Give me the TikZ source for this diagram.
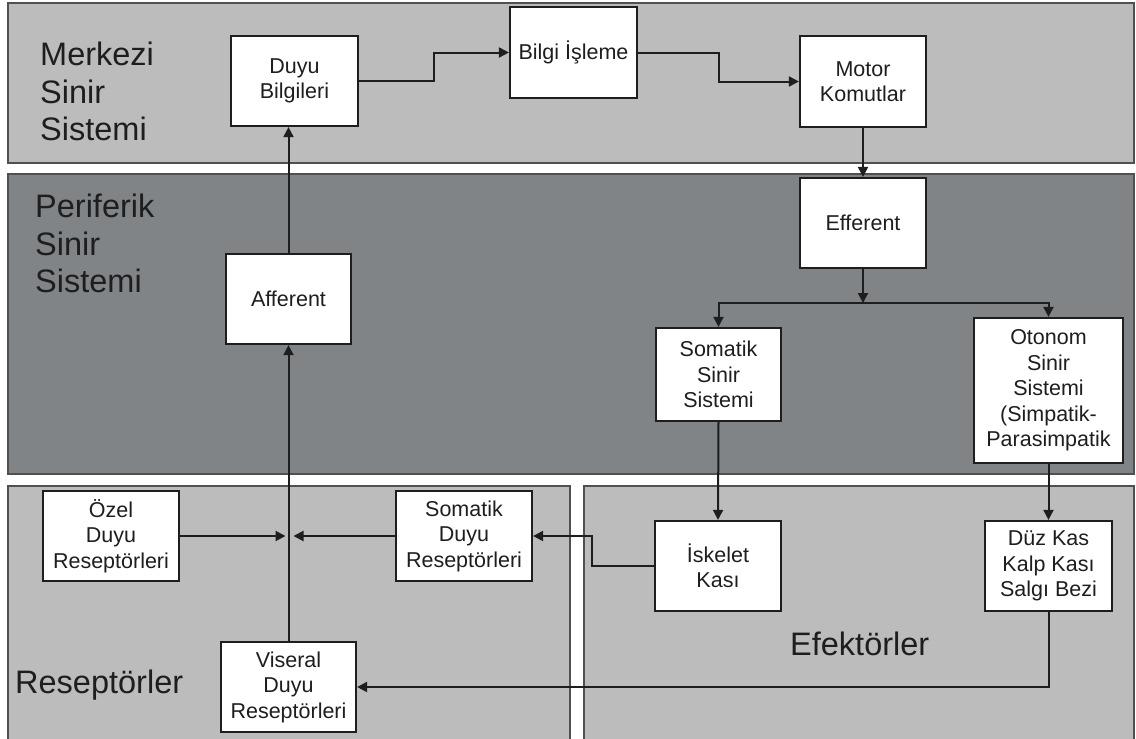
\documentclass[tikz,border=0pt]{standalone}
\usepackage{fontspec}
\setmainfont{Liberation Sans}
\usetikzlibrary{arrows.meta}
\definecolor{lightpanel}{RGB}{188,188,188}
\definecolor{darkpanel}{RGB}{128,132,135}
\definecolor{panelborder}{RGB}{80,80,80}
\definecolor{ink}{RGB}{30,30,30}
\begin{document}
\begin{tikzpicture}[x=1pt,y=-1pt,
  panel/.style={draw=panelborder,line width=1.8pt},
  box/.style={draw=ink,fill=white,line width=2.2pt,inner sep=0pt,align=center,
    font=\fontsize{21.5}{25.5}\selectfont,text=ink},
  conn/.style={draw=ink,line width=2pt},
  arr/.style={conn,-{Triangle[length=10pt,width=10pt]}},
  title/.style={inner sep=0pt,align=left,font=\fontsize{32.5}{37.5}\selectfont,text=ink}]
\fill[white] (0,0) rectangle (1136,739);
\clip (0,0) rectangle (1136,739);
% panels
\draw[panel,fill=lightpanel] (8,3) rectangle (1134,163);
\draw[panel,fill=darkpanel] (8,174) rectangle (1134,474);
\draw[panel,fill=lightpanel] (8,486) rectangle (570,760);
\draw[panel,fill=lightpanel] (584,486) rectangle (1134,760);
% titles
\node[title,anchor=north west] (tmerkezi) at (40,42) {Merkezi\\Sinir\\Sistemi};
\node[title,anchor=north west] (tperiferik) at (35,194) {Periferik\\Sinir\\Sistemi};
\node[title,anchor=base west] (treseptor) at (15,693) {Reseptörler};
\node[title,anchor=base west] (tefektor) at (790,655) {Efektörler};
% boxes
\node[box,minimum width=127pt,minimum height=90pt] (duyu) at (294.5,81) {Duyu\\Bilgileri};
\node[box,minimum width=127pt,minimum height=91pt] (bilgi) at (573.5,52.5) {Bilgi İşleme};
\node[box,minimum width=126pt,minimum height=91pt] (motor) at (863,81.5) {Motor\\Komutlar};
\node[box,minimum width=126pt,minimum height=90pt] (efferent) at (863,223) {Efferent};
\node[box,minimum width=125pt,minimum height=90pt] (afferent) at (288.5,299) {Afferent};
\node[box,minimum width=125pt,minimum height=93pt] (somsinir) at (718.5,374.5) {Somatik\\Sinir\\Sistemi};
\node[box,minimum width=149pt,minimum height=145pt] (otonom) at (1048.5,390.5) {Otonom\\Sinir\\Sistemi\\(Simpatik-\\Parasimpatik};
\node[box,minimum width=136pt,minimum height=90pt] (ozel) at (111,536) {Özel\\Duyu\\Reseptörleri};
\node[box,minimum width=136pt,minimum height=90pt] (somduyu) at (464,536) {Somatik\\Duyu\\Reseptörleri};
\node[box,minimum width=135pt,minimum height=90pt] (viseral) at (288.5,687) {Viseral\\Duyu\\Reseptörleri};
\node[box,minimum width=126pt,minimum height=90pt] (iskelet) at (718,566) {İskelet\\Kası};
\node[box,minimum width=127pt,minimum height=90pt] (duzkas) at (1048.5,566) {Düz Kas\\Kalp Kası\\Salgı Bezi};
% connectors
\coordinate (split) at (863,303);
\coordinate (junction) at (288.5,536);
\draw[arr] (duyu.east) -- ++(75,0) |- (bilgi.west);
\draw[arr] (bilgi.east) -- ++(81,0) |- (motor.west);
\draw[arr] (motor.south) -- (efferent.north);
\draw[arr] (efferent.south) -- (split);
\draw[arr] (split) -| (somsinir.north);
\draw[arr] (split) -| (otonom.north);
\draw[arr] (somsinir.south) -- (iskelet.north);
\draw[arr] (otonom.south) -- (duzkas.north);
\draw[arr] (afferent.north) -- (afferent.north |- duyu.south);
\draw[arr] (viseral.north) -- (afferent.south);
\draw[arr,shorten >=3pt] (ozel.east) -- (junction);
\draw[arr,shorten >=5pt] (somduyu.west) -- (junction);
\draw[arr] (iskelet.west) -- ++(-62,0) |- (somduyu.east);
\draw[arr] (duzkas.south) |- (viseral.east);
\end{tikzpicture}
\end{document}
